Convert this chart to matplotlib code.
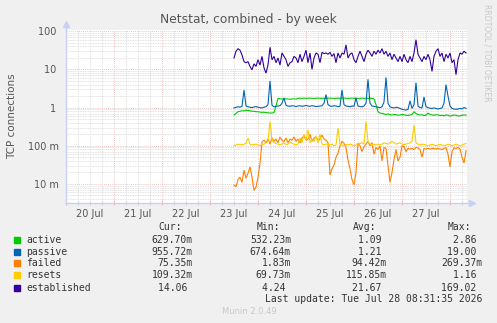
"""
Munin style weekly netstat chart (log scale, rrdtool look).
"""
import numpy as np
import pandas as pd
import matplotlib
matplotlib.use("Agg")
import matplotlib.pyplot as plt
import matplotlib.dates as mdates
from matplotlib.ticker import LogLocator, FuncFormatter, NullFormatter
from matplotlib.patches import Rectangle

W, H = 497, 323

labels = ["active", "passive", "failed", "resets", "established"]
colors = ["#00cc00", "#0066b3", "#ff8000", "#ffcc00", "#330099"]

# hourly samples, 23 Jul 12:00 -> 28 Jul 08:00
active = [0.64, 0.7, 0.78, 0.8, 0.83, 0.82, 0.85, 0.84, 0.83, 0.8, 0.8,
          0.78, 0.78, 0.76, 0.75, 0.76, 0.74, 0.73, 0.72, 0.72, 0.74, 1.1,
          1.75, 1.7, 1.68, 1.66, 1.7, 1.67, 1.66, 1.68, 1.7, 1.66,
          1.75, 1.76, 1.74, 1.77, 1.75, 1.76, 1.78, 1.75, 1.74, 1.76,
          1.77, 1.75, 1.76, 1.74, 1.75, 1.77, 1.76, 1.75, 1.74, 1.76,
          1.77, 1.75, 1.76, 1.78, 1.75, 1.74, 1.76, 1.77, 1.75, 1.76,
          1.74, 1.75, 1.77, 1.76, 1.75, 1.74, 1.76, 1.75, 1.7, 1.2,
          0.78, 0.72, 0.7, 0.68, 0.66, 0.68, 0.65, 0.64, 0.66, 0.65,
          0.63, 0.64, 0.66, 0.65, 0.63, 0.62, 0.64, 0.66, 0.78, 0.7,
          0.66, 0.64, 0.65, 0.62, 0.63, 0.72, 0.66, 0.64, 0.63, 0.65,
          0.64, 0.62, 0.63, 0.61, 0.64, 0.63, 0.6, 0.62, 0.64, 0.63,
          0.6, 0.61, 0.63, 0.64, 0.63]
passive = [0.98, 1.02, 1.05, 1.03, 1.08, 2.9, 1.1, 1.05, 1.02, 1.0,
           1.04, 1.06, 1.02, 1.0, 0.98, 1.03, 1.05, 1.2, 5.0, 1.15, 1.05,
           1.08, 1.1, 1.12, 1.3, 1.8, 1.15, 1.1, 1.08, 1.12, 1.1,
           1.06, 1.1, 1.12, 1.08, 1.1, 1.14, 1.1, 1.08, 1.12, 1.1,
           1.06, 1.08, 1.1, 1.12, 1.3, 2.2, 1.2, 1.1, 1.08, 1.12,
           1.1, 1.06, 1.08, 2.9, 1.2, 1.1, 1.08, 1.05, 1.1, 1.08,
           1.8, 1.1, 1.06, 1.05, 1.1, 1.3, 5.5, 1.3, 1.1, 1.08,
           1.05, 1.02, 1.0, 1.05, 1.4, 6.2, 1.3, 1.05, 1.0, 0.98,
           1.02, 1.0, 0.95, 0.9, 0.88, 0.86, 0.9, 1.5, 0.95, 1.2,
           4.5, 1.1, 1.0, 0.98, 1.9, 1.05, 1.0, 0.96, 0.95, 0.98,
           0.95, 0.92, 0.95, 0.98, 1.3, 4.0, 2.0, 1.1, 0.95, 0.92,
           0.9, 0.92, 0.95, 0.93, 1.0, 0.96]
failed = [0.0093, 0.0085, 0.013, 0.015, 0.011, 0.023, 0.014, 0.019, 0.028,
          0.015, 0.0068, 0.0083, 0.015, 0.035,
          0.127, 0.14, 0.12, 0.15, 0.11, 0.16, 0.13, 0.15, 0.12, 0.17,
          0.14, 0.13, 0.16, 0.12, 0.15, 0.14, 0.17, 0.13, 0.15, 0.12,
          0.16, 0.18, 0.14, 0.15, 0.2, 0.13, 0.16, 0.17, 0.14, 0.15,
          0.19, 0.15, 0.14, 0.12,
          0.017, 0.025, 0.031, 0.05, 0.064, 0.1, 0.13, 0.116, 0.09, 0.042,
          0.025, 0.013, 0.0095, 0.02,
          0.118, 0.1, 0.07, 0.095, 0.11, 0.127, 0.1, 0.12, 0.06, 0.09,
          0.08, 0.1, 0.04, 0.09, 0.085, 0.03, 0.011, 0.02, 0.044, 0.08,
          0.04, 0.05, 0.1, 0.094, 0.07, 0.085, 0.082, 0.085, 0.08, 0.09,
          0.088, 0.08, 0.05, 0.085, 0.082, 0.085, 0.082, 0.085, 0.085, 0.082,
          0.085, 0.082, 0.08, 0.085, 0.09, 0.06, 0.028, 0.07, 0.088, 0.085,
          0.09, 0.082, 0.05, 0.035, 0.075]
resets = [0.1, 0.105, 0.11, 0.108, 0.105, 0.11, 0.115, 0.16, 0.11, 0.105,
          0.108, 0.11, 0.105, 0.1, 0.108, 0.11, 0.12, 0.13, 0.43, 0.14, 0.12,
          0.115, 0.11, 0.105, 0.11, 0.12, 0.108, 0.11, 0.13, 0.115, 0.11,
          0.105, 0.11, 0.16, 0.12, 0.2, 0.14, 0.26, 0.12, 0.15, 0.13,
          0.18, 0.12, 0.2, 0.11, 0.105, 0.11, 0.108,
          0.105, 0.11, 0.1, 0.105, 0.29, 0.11, 0.105, 0.1, 0.108, 0.105,
          0.11, 0.105, 0.1, 0.105, 0.11, 0.115, 0.12, 0.11, 0.43, 0.13,
          0.11, 0.105, 0.11,
          0.105, 0.11, 0.108, 0.11, 0.12, 0.115, 0.11, 0.12, 0.13, 0.12,
          0.11, 0.115, 0.12, 0.11, 0.108, 0.11, 0.115, 0.12, 0.13, 0.35,
          0.12, 0.11, 0.105, 0.11, 0.108, 0.105, 0.1, 0.105, 0.11, 0.105,
          0.1, 0.105, 0.108, 0.105, 0.1, 0.105, 0.11, 0.105, 0.1, 0.105,
          0.11, 0.105, 0.1, 0.105, 0.11, 0.115]
established = [20, 30, 35, 32, 24, 16, 15, 16, 12, 9.8, 14, 12, 18, 13, 22,
               11, 8, 13, 38, 18, 22, 15, 20, 13, 27, 22, 18, 12, 15, 16,
               22, 20, 15, 25, 16, 22, 32, 15, 27, 10, 20, 27, 25, 15, 28,
               26, 27, 25, 28, 22, 26, 15, 27, 20, 27, 25, 44, 20, 25,
               27, 18, 15, 22, 30, 22, 16, 25, 32, 27, 22, 30, 25, 32, 27,
               35, 25, 30, 22, 27, 18, 25, 20, 16, 22, 16, 25, 18, 15, 22,
               16, 27, 60, 25, 20, 16, 22, 18, 25, 18, 8.9, 22, 30, 35, 22,
               27, 16, 25, 20, 27, 15, 18, 7.3, 18, 27, 25, 30, 27]

series = [active, passive, failed, resets, established]
times = pd.date_range("2026-07-23 12:00", periods=len(established), freq="h")

cur_vals = ["629.70m", "955.72m", "75.35m", "109.32m", "14.06"]
min_vals = ["532.23m", "674.64m", "1.83m", "69.73m", "4.24"]
avg_vals = ["1.09", "1.21", "94.42m", "115.85m", "21.67"]
max_vals = ["2.86", "19.00", "269.37m", "1.16", "169.02"]

y_ticks = [0.01, 0.1, 1, 10, 100]
y_tick_labels = ["10 m", "100 m", "1 ", "10 ", "100 "]


def fx(x):
    return x / W


def fy(y):
    return 1 - y / H


fig = plt.figure(figsize=(W / 100, H / 100), dpi=100, facecolor="#f0f0f0")
ax = fig.add_axes([fx(66), fy(203), 401 / W, 173 / H], facecolor="white")

for vals, color in zip(series, colors):
    ax.plot(times, vals, color=color, lw=0.8, solid_joinstyle="miter")

ax.set_yscale("log")
ax.set_ylim(0.00316, 108)
ax.set_xlim(pd.Timestamp("2026-07-20 00:00"), pd.Timestamp("2026-07-28 08:30"))

# grid: gray minor, red major (rrdtool style)
ax.yaxis.set_major_locator(LogLocator(base=10))
ax.yaxis.set_minor_locator(LogLocator(base=10, subs=np.arange(2, 10)))
ax.xaxis.set_major_locator(mdates.DayLocator())
ax.xaxis.set_minor_locator(mdates.HourLocator(byhour=[6, 12, 18]))
ax.grid(which="minor", color="#d8d8d8", linestyle=(0, (1, 1)), lw=0.6)
ax.grid(which="major", color="#e6b2b2", linestyle=(0, (1, 1.5)), lw=0.6)
ax.set_axisbelow(True)

tick_map = dict(zip(y_ticks, y_tick_labels))
ax.yaxis.set_major_formatter(FuncFormatter(
    lambda v, pos: next((t for k, t in tick_map.items() if abs(v / k - 1) < 1e-6), "")))
ax.yaxis.set_minor_formatter(NullFormatter())
ax.tick_params(axis="y", which="both", length=0, pad=5, labelsize=7,
               labelcolor="#555555")

ax.xaxis.set_major_formatter(NullFormatter())
ax.xaxis.set_minor_formatter(FuncFormatter(
    lambda v, pos: mdates.num2date(v).strftime("%d %b")
    if mdates.num2date(v).hour == 12 else ""))
ax.tick_params(axis="x", which="major", direction="inout", length=3,
               color="#e6b2b2")
ax.tick_params(axis="x", which="minor", direction="inout", length=3,
               color="#cccccc", pad=3, labelsize=7, labelcolor="#555555")

for side in ["top", "right"]:
    ax.spines[side].set_visible(False)
axis_col = "#c8d0f4"
for side in ["left", "bottom"]:
    ax.spines[side].set_color(axis_col)
    ax.spines[side].set_linewidth(1)
# axis arrows
ax.plot([0, 0], [1, 1 + 6 / 173], color=axis_col, lw=1, transform=ax.transAxes,
        clip_on=False)
ax.plot([0], [1 + 6 / 173], marker="^", ms=4, color=axis_col,
        transform=ax.transAxes, clip_on=False)
ax.plot([1, 1 + 5 / 401], [0, 0], color=axis_col, lw=1, transform=ax.transAxes,
        clip_on=False)
ax.plot([1 + 5 / 401], [0], marker=">", ms=4, color=axis_col,
        transform=ax.transAxes, clip_on=False)

ax.set_ylabel("TCP connections", fontsize=7.5, color="#555555", labelpad=8)

fig.text(fx(248), fy(19), "Netstat, combined - by week", ha="center",
         va="center", fontsize=8.8, color="#555555")
fig.text(fx(487), fy(4), "RRDTOOL / TOBI OETIKER", rotation=270, ha="center",
         va="top", fontsize=5.5, color="#c8c8c8")

# legend block
mono = dict(family="DejaVu Sans Mono", fontsize=7, color="#333333", va="center")
col_right = [193, 291, 387, 482]
headers = ["Cur:", "Min:", "Avg:", "Max:"]
for xr, head in zip(col_right, headers):
    fig.text(fx(xr - 11), fy(227), head, ha="right", **mono)

row_y = [240, 251.7, 263.3, 275.3, 287.7]
columns = [cur_vals, min_vals, avg_vals, max_vals]
for i, (lab, color) in enumerate(zip(labels, colors)):
    y = row_y[i]
    fig.add_artist(Rectangle((fx(14), fy(y + 3)), 6 / W, 6 / H, color=color,
                             transform=fig.transFigure))
    fig.text(fx(26), fy(y), lab, ha="left", **mono)
    for xr, col in zip(col_right, columns):
        s = col[i]
        if not s.endswith("m"):
            s = s + " "
        fig.text(fx(xr), fy(y), s, ha="right", **mono)

fig.text(fx(482), fy(299.5), "Last update: Tue Jul 28 08:31:35 2026",
         ha="right", **mono)
fig.text(fx(249), fy(311.5), "Munin 2.0.49", ha="center", va="center",
         fontsize=6, color="#c8c8c8")

fig.savefig("out.png", dpi=100, facecolor=fig.get_facecolor())
